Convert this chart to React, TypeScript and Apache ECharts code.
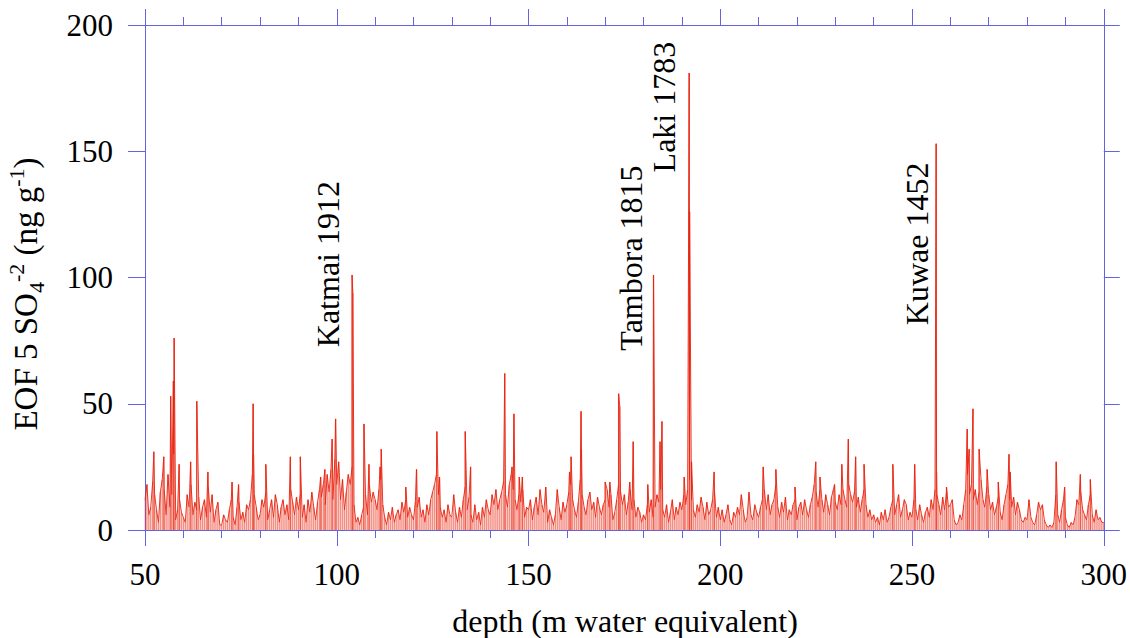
import React, { useEffect, useRef } from "react";
import * as echarts from "echarts";

// ---- axis settings ----
const xMin = 50;
const xMax = 300;
const xInterval = 50;
const yMin = 0;
const yMax = 200;
const yInterval = 50;

// ---- background signal, one value every 0.5 m, starting at 50 m ----
const baseStart = 50;
const baseStep = 0.5;
const d050 = [12, 18, 6, 9, 19, 14, 8, 3, 15, 20, 16, 6, 22, 9, 14, 30, 4, 8, 12, 7];
const d060 = [5, 3, 14, 9, 18, 6, 11, 8, 13, 4, 9, 12, 5, 17, 7, 14, 3, 8, 11, 2];
const d070 = [2, 6, 4, 3, 8, 12, 5, 2, 9, 11, 4, 7, 3, 10, 8, 12, 22, 14, 9, 4];
const d080 = [6, 12, 9, 15, 4, 8, 12, 5, 14, 10, 3, 9, 12, 6, 10, 4, 16, 11, 6, 13];
const d090 = [8, 14, 5, 10, 3, 12, 7, 15, 9, 4, 11, 16, 13, 18, 10, 22, 15, 24, 12, 28];
const d100 = [18, 27, 12, 20, 8, 15, 22, 18, 25, 10, 3, 5, 2, 6, 9, 14, 6, 18, 11, 15];
const d110 = [12, 8, 16, 20, 10, 5, 2, 7, 4, 9, 3, 6, 8, 4, 11, 7, 12, 5, 9, 6];
const d120 = [4, 11, 9, 13, 5, 8, 3, 10, 6, 12, 15, 18, 22, 14, 9, 5, 8, 3, 10, 6];
const d130 = [5, 14, 7, 3, 9, 5, 12, 17, 8, 13, 6, 3, 10, 4, 7, 2, 9, 5, 12, 8];
const d140 = [6, 14, 10, 16, 8, 12, 15, 19, 14, 9, 18, 22, 16, 12, 8, 14, 11, 16, 5, 9];
const d150 = [8, 12, 4, 9, 13, 6, 16, 10, 7, 17, 3, 8, 5, 2, 6, 16, 9, 4, 11, 7];
const d160 = [10, 15, 18, 12, 8, 5, 11, 20, 14, 9, 6, 12, 15, 8, 11, 5, 13, 9, 6, 10];
const d170 = [12, 16, 9, 14, 4, 7, 12, 18, 15, 10, 14, 6, 11, 16, 8, 12, 5, 9, 7, 3];
const d180 = [6, 4, 10, 7, 12, 5, 9, 14, 11, 16, 8, 5, 10, 3, 7, 12, 4, 9, 6, 11];
const d190 = [8, 14, 10, 16, 20, 12, 8, 5, 10, 7, 13, 9, 4, 11, 6, 8, 12, 15, 5, 9];
const d200 = [4, 8, 3, 6, 10, 4, 2, 7, 5, 9, 6, 14, 8, 3, 5, 15, 6, 4, 10, 7];
const d210 = [5, 9, 12, 16, 8, 14, 6, 10, 12, 18, 9, 5, 11, 7, 13, 4, 8, 6, 10, 12];
const d220 = [4, 9, 11, 6, 12, 8, 5, 10, 13, 18, 15, 9, 16, 12, 7, 14, 10, 6, 13, 16];
const d230 = [11, 8, 14, 10, 16, 12, 9, 18, 14, 11, 15, 9, 13, 7, 12, 16, 10, 5, 8, 4];
const d240 = [6, 3, 5, 2, 7, 4, 8, 3, 5, 9, 12, 6, 10, 14, 5, 8, 12, 10, 4, 7];
const d250 = [5, 12, 8, 4, 10, 6, 3, 7, 9, 5, 12, 8, 16, 14, 10, 6, 13, 8, 15, 9];
const d260 = [10, 12, 4, 2, 3, 6, 4, 10, 16, 22, 14, 18, 12, 16, 10, 15, 20, 12, 9, 17];
const d270 = [14, 8, 11, 6, 9, 13, 7, 4, 10, 14, 18, 12, 9, 13, 6, 11, 8, 4, 3, 5];
const d280 = [4, 12, 5, 3, 2, 6, 11, 8, 10, 4, 2, 1, 2, 1, 3, 14, 6, 3, 8, 12];
const d290 = [5, 2, 1, 3, 2, 5, 12, 10, 15, 8, 6, 4, 10, 14, 6, 3, 8, 4, 5, 3, 3];

// ---- individual spikes (depth in m, value in ng/g) ----
const peakDepths = [
  52.3, 54.9, 56.7, 57.4, 57.6, 58.9, 61.9, 63.5, 66.4, 72.7, 74.4, 78.2, 78.3,
  81.5, 87.9, 90.5, 95.8, 96.9, 98.8, 99.7, 104.0, 104.2, 107.1, 108.4, 111.3,
  111.6, 118.0, 120.8, 126.1, 126.8, 133.5, 134.9, 143.8, 145.7, 146.2, 147.6,
  148.4, 160.7, 161.1, 163.7, 163.8, 170.0, 171.2, 173.5, 173.8, 176.4, 177.3,
  181.1, 182.6, 184.3, 184.8, 190.6, 191.9, 192.0, 192.5, 198.4, 211.2, 214.5,
  219.5, 224.9, 226.0, 229.8, 231.7, 233.4, 235.3, 237.5, 245.0, 250.7, 256.3,
  256.4, 259.0, 264.4, 264.9, 265.9, 267.5, 269.6, 272.5, 275.3, 275.6, 287.6,
  289.8, 293.9, 296.5,
];
const peakValues = [
  31, 29, 53, 59, 76, 26, 27, 51, 23, 19, 18, 50, 30,
  26, 29, 29, 21, 24, 36, 44, 101, 94, 42, 26, 25,
  32, 17, 24, 39, 21, 39, 25, 62, 25, 46, 21,
  21, 23, 29, 47, 32, 19, 19, 54, 49, 19, 35,
  18, 101, 35, 43, 21, 181, 126, 27, 23, 25, 24,
  17, 27, 21, 18, 26, 36, 29, 26, 26, 26, 153,
  23, 17, 40, 32, 48, 32, 24, 19, 30, 23, 27,
  17, 22, 20,
];

// ---- eruption labels ----
const annoNames = ["Katmai 1912", "Tambora 1815", "Laki 1783", "Kuwae 1452"];
const annoDepths = [97.7, 176.6, 185.4, 251.3];
const annoValues = [105.3, 107.7, 167.5, 113.3];

const AXIS_BLUE = "#6464e2";
const SERIF = "Liberation Serif";

function buildSeries(): [number, number][] {
  const base = [
    ...d050, ...d060, ...d070, ...d080, ...d090, ...d100, ...d110, ...d120,
    ...d130, ...d140, ...d150, ...d160, ...d170, ...d180, ...d190, ...d200,
    ...d210, ...d220, ...d230, ...d240, ...d250, ...d260, ...d270, ...d280, ...d290,
  ];
  const pts: [number, number][] = base.map((v, i) => [baseStart + i * baseStep, v]);
  peakDepths.forEach((d, i) => pts.push([d, peakValues[i]]));
  pts.sort((a, b) => a[0] - b[0]);
  return pts;
}

export default function App() {
  const ref = useRef<HTMLDivElement>(null);
  useEffect(() => {
    if (!ref.current) return;
    const chart = echarts.init(ref.current, undefined, { renderer: "svg" });
    const axisLine = { show: true, onZero: false, lineStyle: { color: AXIS_BLUE, width: 1 } };
    const tick = { show: true, inside: false, length: 16, lineStyle: { color: AXIS_BLUE, width: 1 } };
    const minor = { show: true, splitNumber: 5, length: 8, lineStyle: { color: AXIS_BLUE, width: 1 } };
    const data = buildSeries();
    const option: any = {
      animation: false,
      backgroundColor: "#ffffff",
      grid: { left: 145, right: 25, top: 25, bottom: 108, containLabel: false },
      xAxis: [
        {
          type: "value",
          position: "bottom",
          min: xMin,
          max: xMax,
          interval: xInterval,
          axisLine,
          axisTick: tick,
          minorTick: minor,
          splitLine: { show: false },
          axisLabel: { color: "#000", fontSize: 31, fontFamily: SERIF, margin: 29 },
        },
        {
          type: "value",
          position: "top",
          min: xMin,
          max: xMax,
          interval: xInterval,
          axisLine,
          axisTick: tick,
          minorTick: minor,
          splitLine: { show: false },
          axisLabel: { show: false },
        },
      ],
      yAxis: [
        {
          type: "value",
          position: "left",
          min: yMin,
          max: yMax,
          interval: yInterval,
          axisLine,
          axisTick: { ...tick, length: 17 },
          splitLine: { show: false },
          axisLabel: { color: "#000", fontSize: 31, fontFamily: SERIF, margin: 32 },
        },
        {
          type: "value",
          position: "right",
          min: yMin,
          max: yMax,
          interval: yInterval,
          axisLine,
          axisTick: tick,
          splitLine: { show: false },
          axisLabel: { show: false },
        },
      ],
      series: [
        {
          type: "bar",
          xAxisIndex: 0,
          yAxisIndex: 0,
          data,
          barWidth: 1.4,
          itemStyle: { color: "rgba(234,50,30,0.55)" },
          silent: true,
          z: 1,
        },
        {
          type: "line",
          xAxisIndex: 0,
          yAxisIndex: 0,
          data,
          showSymbol: false,
          symbol: "none",
          lineStyle: { color: "#e8230f", width: 0.9 },
          clip: true,
          silent: true,
          z: 2,
        },
        {
          type: "scatter",
          xAxisIndex: 0,
          yAxisIndex: 0,
          symbolSize: 1,
          itemStyle: { color: "rgba(0,0,0,0)" },
          data: annoNames.map((n, i) => ({ name: n, value: [annoDepths[i], annoValues[i]] })),
          label: {
            show: true,
            position: "inside",
            rotate: 90,
            formatter: (p: any) => p.name,
            color: "#000",
            opacity: 1,
            textBorderWidth: 0,
            fontSize: 32,
            fontFamily: SERIF,
          },
          silent: true,
          z: 5,
        },
      ],
      graphic: [
        {
          type: "text",
          x: 625,
          y: 621,
          style: {
            text: "depth (m water equivalent)",
            fill: "#000",
            fontSize: 32,
            fontFamily: SERIF,
            align: "center",
            verticalAlign: "middle",
          },
        },
        {
          type: "text",
          x: 26,
          y: 294,
          rotation: Math.PI / 2,
          style: {
            text: "{n|EOF 5 SO}{sub|4}{sup|-2}{n| (ng g}{sup|-1}{n|)}",
            align: "center",
            verticalAlign: "middle",
            rich: {
              n: { fontSize: 33, fontFamily: SERIF, fill: "#000", lineHeight: 46, verticalAlign: "middle" },
              sub: { fontSize: 22, fontFamily: SERIF, fill: "#000", lineHeight: 46, verticalAlign: "bottom", padding: [0, 0, 2, 0] },
              sup: { fontSize: 22, fontFamily: SERIF, fill: "#000", lineHeight: 46, verticalAlign: "top", padding: [2, 0, 0, 0] },
            },
          },
        },
      ],
    };
    chart.setOption(option);
    return () => chart.dispose();
  }, []);
  return (
    <div
      ref={ref}
      style={{ position: "fixed", left: 0, top: 0, width: 1130, height: 638, background: "#fff" }}
    />
  );
}
